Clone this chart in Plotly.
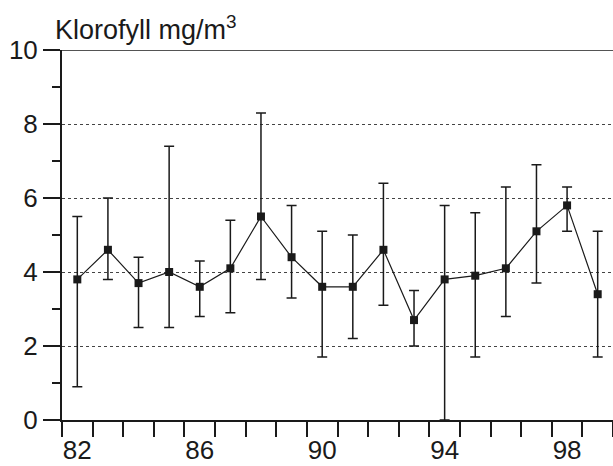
import plotly.graph_objects as go

years = [82, 83, 84, 85, 86, 87, 88, 89, 90, 91, 92, 93, 94, 95, 96, 97, 98, 99]
mean = [3.8, 4.6, 3.7, 4.0, 3.6, 4.1, 5.5, 4.4, 3.6, 3.6, 4.6, 2.7, 3.8, 3.9, 4.1, 5.1, 5.8, 3.4]
upper = [5.5, 6.0, 4.4, 7.4, 4.3, 5.4, 8.3, 5.8, 5.1, 5.0, 6.4, 3.5, 5.8, 5.6, 6.3, 6.9, 6.3, 5.1]
lower = [0.9, 3.8, 2.5, 2.5, 2.8, 2.9, 3.8, 3.3, 1.7, 2.2, 3.1, 2.0, 0.0, 1.7, 2.8, 3.7, 5.1, 1.7]
x_labels = [82, 86, 90, 94, 98]
y_labels = [0, 2, 4, 6, 8, 10]
title_text = "Klorofyll mg/m<sup>3</sup>"

err_plus = [u - m for u, m in zip(upper, mean)]
err_minus = [m - l for m, l in zip(mean, lower)]

ink = "#1a1a1a"
font = "Liberation Sans, Arial, sans-serif"

fig = go.Figure()
fig.add_trace(go.Scatter(
    x=years, y=mean, mode="lines+markers",
    line=dict(color=ink, width=1.2),
    marker=dict(symbol="square", size=8, color=ink),
    error_y=dict(type="data", symmetric=False, array=err_plus, arrayminus=err_minus,
                 color=ink, thickness=1.5, width=5),
    showlegend=False, cliponaxis=False,
))

fig.add_shape(type="line", xref="paper", yref="y", x0=0, x1=1, y0=10, y1=10,
              line=dict(color=ink, width=1.5))

fig.add_annotation(text=title_text, xref="paper", yref="paper", x=-0.016, y=1.0,
                   xanchor="left", yanchor="bottom", showarrow=False,
                   font=dict(family=font, size=27, color=ink), yshift=3)

fig.update_layout(
    width=613, height=466,
    margin=dict(l=62, r=0, t=50, b=46),
    paper_bgcolor="white", plot_bgcolor="white",
    font=dict(family=font, size=26, color=ink),
    xaxis=dict(range=[81.5, 99.5], tickmode="array", tickvals=x_labels,
               ticktext=[str(v) for v in x_labels], ticks="outside", ticklen=6,
               tickcolor="rgba(0,0,0,0)", showgrid=False, automargin=False,
               showline=True, linecolor=ink, linewidth=1.5, zeroline=False,
               minor=dict(tick0=81.5, dtick=1, ticks="outside", ticklen=15,
                          tickcolor=ink, tickwidth=1.5, showgrid=False)),
    yaxis=dict(range=[0, 10], tickmode="array", tickvals=y_labels,
               ticks="outside", ticklen=17, tickcolor=ink, tickwidth=1.5,
               showline=True, linecolor=ink, linewidth=2, zeroline=False,
               automargin=False,
               showgrid=True, gridcolor="#444", gridwidth=1, griddash="dot",
               minor=dict(dtick=1, ticks="outside", ticklen=8, tickcolor=ink,
                          tickwidth=1.5, showgrid=False)),
)

fig.write_html("out.html", config={"displayModeBar": False},
               post_script="document.body.style.margin='0';document.body.style.overflow='hidden';")
